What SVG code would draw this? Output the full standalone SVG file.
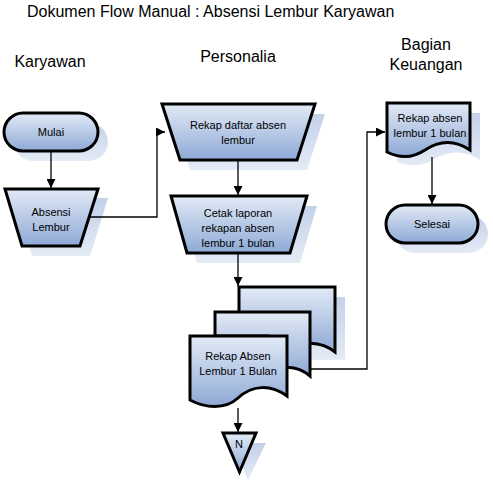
<svg xmlns="http://www.w3.org/2000/svg" width="493" height="480" viewBox="0 0 493 480">
<style>
text{font-family:"Liberation Sans",Arial,sans-serif;fill:#000;text-anchor:middle}
.h{font-size:16px}
.t{font-size:11px}
.s{fill:url(#sg);stroke:none}
.n{fill:url(#g);stroke:#000;stroke-width:3;stroke-linejoin:miter}
.c{fill:none;stroke:#000;stroke-width:1.3}
</style>
<defs>
<linearGradient id="g" x1="0" y1="0" x2="0" y2="1">
<stop offset="0" stop-color="#e2eaf6"/>
<stop offset="1" stop-color="#8ea9d6"/>
</linearGradient>
<linearGradient id="sg" x1="0" y1="0" x2="0" y2="1">
<stop offset="0" stop-color="#c3d1ea"/>
<stop offset="1" stop-color="#e4ebf6"/>
</linearGradient>
<marker id="a" viewBox="0 0 10 10" refX="10" refY="5" markerWidth="9" markerHeight="9" markerUnits="userSpaceOnUse" orient="auto">
<path d="M0,0 L10,5 L0,10 z" fill="#000"/>
</marker>
</defs>
<text x="27" y="17" class="h" style="text-anchor:start">Dokumen Flow Manual : Absensi Lembur Karyawan</text>
<text x="50" y="67" class="h">Karyawan</text>
<text x="238" y="62" class="h">Personalia</text>
<text x="426" y="50" class="h">Bagian</text>
<text x="426" y="70" class="h">Keuangan</text>

<g id="shadows">
<rect x="14" y="123" width="94" height="38" rx="19" class="s"/>
<path d="M15,198 H108 L90,256 H32 z" class="s"/>
<path d="M172,114 H325 L307,170 H190 z" class="s"/>
<path d="M181,206 H317 L300,263 H197 z" class="s"/>
<path d="M249,297 H345 V360 L249,360 z" class="s"/>
<path d="M397,113 H480 V160 C465,150 450,150 432,160 C420,168 405,165 397,162 z" class="s"/>
<rect x="396" y="215" width="92" height="38" rx="19" class="s"/>
<path d="M233,443 H266 L248,480 z" class="s"/>
</g>

<g id="connectors">
<line x1="51" y1="151" x2="51" y2="188" class="c" marker-end="url(#a)"/>
<polyline points="90,217 157,217 157,132 165,132" class="c" marker-end="url(#a)"/>
<line x1="238" y1="161" x2="238" y2="195" class="c" marker-end="url(#a)"/>
<line x1="238" y1="254" x2="238" y2="286" class="c" marker-end="url(#a)"/>
<polyline points="310,369 367,369 367,132 385,132" class="c" marker-end="url(#a)"/>
<line x1="432" y1="157" x2="432" y2="204" class="c" marker-end="url(#a)"/>
<line x1="238" y1="408" x2="238" y2="432" class="c" marker-end="url(#a)"/>
</g>

<g id="mulai">
<rect x="4" y="113" width="94" height="38" rx="19" class="n"/>
<text x="51" y="136" class="t">Mulai</text>
</g>
<g id="absensi-lembur">
<path d="M5,189 H98 L80,246 H22 z" class="n"/>
<text x="51" y="216" class="t">Absensi</text>
<text x="51" y="231" class="t">Lembur</text>
</g>
<g id="rekap-daftar">
<path d="M162,104 H315 L297,160 H180 z" class="n"/>
<text x="238" y="129" class="t">Rekap daftar absen</text>
<text x="238" y="144" class="t">lembur</text>
</g>
<g id="cetak-laporan">
<path d="M171,196 H307 L290,253 H187 z" class="n"/>
<text x="238" y="217" class="t">Cetak laporan</text>
<text x="238" y="232" class="t">rekapan absen</text>
<text x="238" y="247" class="t">lembur 1 bulan</text>
</g>
<g id="rekap-absen-multi">
<path d="M239,287 H335 V352 C320,340 300,342 290,348 V320 H239 z" class="n"/>
<path d="M215,312 H310 V376 C296,364 278,366 268,372 V336 H215 z" class="n"/>
<path d="M190,336 H287 V396 C270,384 252,385 238,398 C225,410 205,408 190,400 z" class="n"/>
<text x="238" y="360" class="t">Rekap Absen</text>
<text x="238" y="375" class="t">Lembur 1 Bulan</text>
</g>
<g id="rekap-absen-keuangan">
<path d="M387,103 H470 V150 C455,140 440,140 425,150 C410,160 397,157 387,152 z" class="n"/>
<text x="430" y="122" class="t">Rekap absen</text>
<text x="430" y="137" class="t">lembur 1 bulan</text>
</g>
<g id="selesai">
<rect x="386" y="205" width="92" height="38" rx="19" class="n"/>
<text x="432" y="228" class="t">Selesai</text>
</g>
<g id="n-offpage">
<path d="M223,433 H256 L239.5,472 z" class="n"/>
<text x="239" y="448" class="t">N</text>
</g>
</svg>
